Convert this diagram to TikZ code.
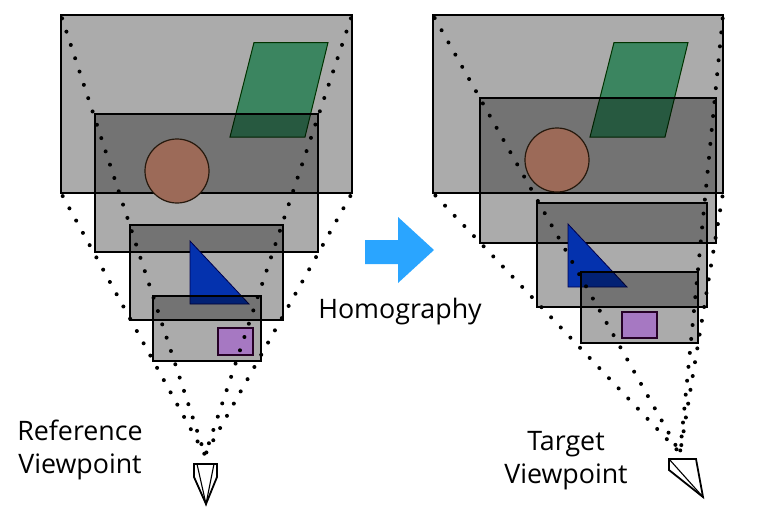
\documentclass[tikz,border=0pt]{standalone}
\usepackage{fontspec}
\setmainfont{Open Sans}
\begin{document}
\begin{tikzpicture}[x=1pt, y=-1pt]
        % ================= styles =================
        \definecolor{planecol}{HTML}{3B8560}
        \definecolor{ballcol}{HTML}{9C6A58}
        \definecolor{tricol}{HTML}{0432AE}
        \definecolor{boxcol}{HTML}{A678C2}
        \definecolor{arrowcol}{HTML}{2AA5FF}
        \tikzset{
            % translucent view rectangle
            viewrect/.style={draw=black, line width=2.9pt, fill=black, fill opacity=0.33},
            % objects in the scene
            planeobj/.style={draw=black!80!green, line width=1pt, fill=planecol},
            ballobj/.style={draw=black!80!brown, line width=1.2pt, fill=ballcol},
            triobj/.style={draw=black!70!blue, line width=0.8pt, fill=tricol},
            boxobj/.style={draw=black!70!violet, line width=1.4pt, fill=boxcol},
            % lines of sight
            sightline/.style={line width=4pt, line cap=round, dash pattern=on 0pt off 14pt, dash phase=10.5pt},
            % camera outline
            camshape/.style={draw=black, line width=1.8pt, fill=white, line join=miter},
            caption/.style={font=\fontsize{26.8}{33}\selectfont, align=center, text=black}
        }

        \useasboundingbox (0,0) rectangle (761,509);

        % ================= corners and camera centres =================
        \coordinate (refTL) at (61,15);
        \coordinate (refTR) at (352,15);
        \coordinate (refBL) at (61,193);
        \coordinate (refBR) at (352,193);
        \coordinate (refEye) at (205,455);
        \coordinate (tarTL) at (433,15);
        \coordinate (tarTR) at (723,15);
        \coordinate (tarBL) at (433,193);
        \coordinate (tarBR) at (723,193);
        \coordinate (tarEye) at (680,453);

        % ================= left: reference view =================
        \draw[viewrect] (refTL) rectangle (refBR);
        \draw[planeobj] (254,42.5) -- (328,42.5) -- (305,137) -- (230,137) -- cycle;
        \draw[viewrect] (95,114) rectangle (318,252);
        \draw[ballobj] (177,171) circle (32);
        \draw[viewrect] (130,225) rectangle (283,320);
        \draw[triobj] (190,241) -- (190,304) -- (249,304) -- cycle;
        \draw[viewrect] (153,296) rectangle (261,361);
        \draw[boxobj] (218,328) rectangle (253,355);

        % ================= right: target view =================
        \draw[viewrect] (tarTL) rectangle (tarBR);
        \draw[planeobj] (614,42.5) -- (688,42.5) -- (665,137) -- (590,137) -- cycle;
        \draw[viewrect] (480,98) rectangle (716,243);
        \draw[ballobj] (557,160) circle (32);
        \draw[viewrect] (537,203) rectangle (707,307);
        \draw[triobj] (568,224) -- (568,287) -- (627,287) -- cycle;
        \draw[viewrect] (581,272) rectangle (698,343);
        \draw[boxobj] (622,312) rectangle (657,338);

        % ================= lines of sight =================
        \draw[sightline] (refTL) -- (refEye);
        \draw[sightline] (refTR) -- (refEye);
        \draw[sightline] (refBL) -- (refEye);
        \draw[sightline] (refBR) -- (refEye);
        \draw[sightline] (tarTL) -- (tarEye);
        \draw[sightline] (tarTR) -- (tarEye);
        \draw[sightline] (tarBL) -- (tarEye);
        \draw[sightline] (tarBR) -- (tarEye);

        % ================= cameras =================
        \draw[camshape] (194,464) -- (217,464) -- (217,477) -- (206,504) -- (194,477) -- cycle;
        \draw[line width=1.1pt] (197,464) -- (206,504) -- (214,464);
        \draw[camshape] (669,459) -- (696,459) -- (703,497) -- (669,470) -- cycle;
        \draw[line width=1.1pt] (669,459) -- (703,497);

        % ================= arrow and labels =================
        \fill[arrowcol] (365,240) -- (398,240) -- (398,217) -- (434,250) -- (398,283) -- (398,264) -- (365,264) -- cycle;
        \node[caption] (homography) at (400,312) {Homography};
        \node[caption] (reflabel) at (80,450) {Reference\\Viewpoint};
        \node[caption] (tarlabel) at (566,460.5) {Target\\Viewpoint};

    \end{tikzpicture}
\end{document}
